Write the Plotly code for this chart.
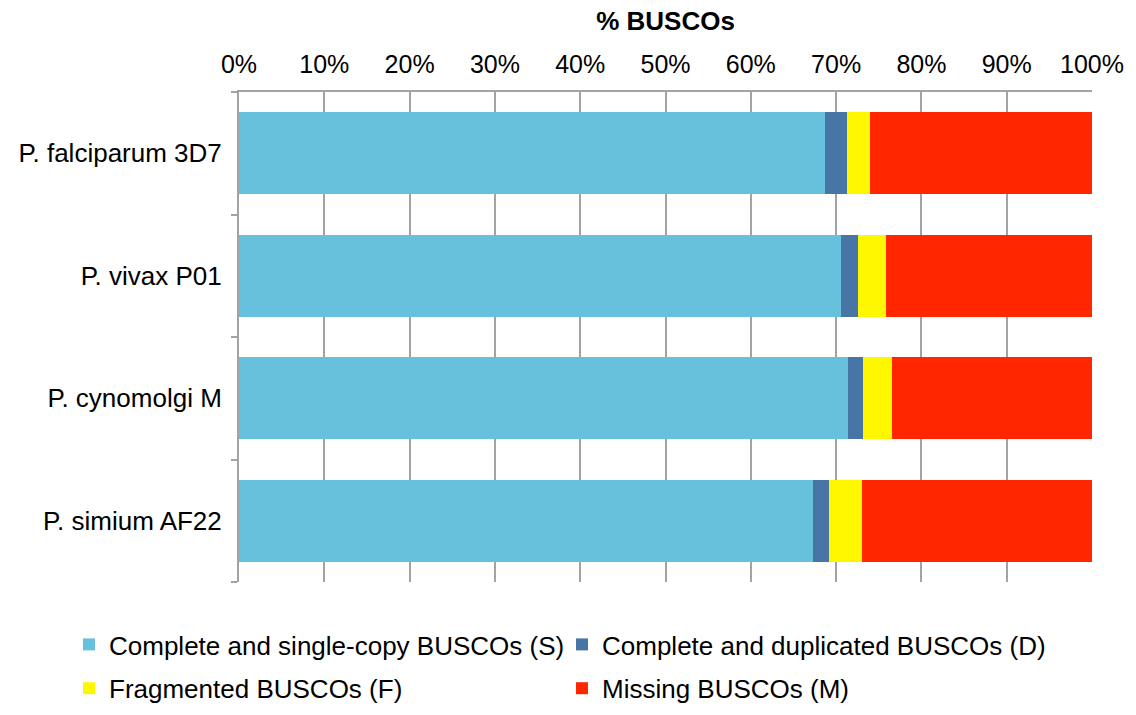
import plotly.graph_objects as go

species = ["P. falciparum 3D7", "P. vivax P01", "P. cynomolgi M", "P. simium AF22"]
single = [68.7, 70.6, 71.4, 67.3]
duplicated = [2.6, 2.0, 1.8, 1.9]
fragmented = [2.7, 3.3, 3.3, 3.8]
missing = [26.0, 24.1, 23.5, 27.0]

series = [
    ("Complete and single-copy BUSCOs (S)", single, "#67C1DC", "legend"),
    ("Complete and duplicated BUSCOs (D)", duplicated, "#4775A5", "legend2"),
    ("Fragmented BUSCOs (F)", fragmented, "#FFF700", "legend"),
    ("Missing BUSCOs (M)", missing, "#FF2600", "legend2"),
]

FONT = "Liberation Sans, Arial, Helvetica, sans-serif"
L, R, T, B = 239, 44, 92, 133
PW = 1136 - L - R

fig = go.Figure()
for name, vals, color, leg in series:
    fig.add_trace(go.Bar(
        y=species, x=vals, name=name, orientation="h",
        marker=dict(color=color, line=dict(width=0)),
        legend=leg, legendgroup=name,
    ))

legend_common = dict(
    orientation="v", xref="paper", yref="container",
    xanchor="left", yanchor="top",
    font=dict(size=26), traceorder="grouped", tracegroupgap=7,
    bgcolor="rgba(0,0,0,0)",
)

fig.update_layout(
    width=1136, height=715,
    barmode="stack", bargap=0.33,
    paper_bgcolor="white", plot_bgcolor="white",
    margin=dict(l=L, r=R, t=T, b=B),
    font=dict(family=FONT, size=26, color="#000000"),
    xaxis=dict(
        side="top", range=[0, 100], dtick=10, ticksuffix="%",
        showgrid=True, gridcolor="#A3A3A3", gridwidth=1.5,
        showline=True, linecolor="#A3A3A3", linewidth=2,
        ticks="", zeroline=False, tickfont=dict(size=25),
        ticklabelstandoff=7,
        title=dict(text="<b>% BUSCOs</b>", standoff=12, font=dict(size=26)),
        fixedrange=True, automargin=False,
    ),
    yaxis=dict(
        categoryorder="array", categoryarray=species[::-1],
        showline=True, linecolor="#A3A3A3", linewidth=2,
        ticks="outside", ticklen=6, tickwidth=2, tickcolor="#A3A3A3",
        tickson="boundaries", showgrid=False, ticklabelstandoff=10,
        tickfont=dict(size=26), automargin=False, fixedrange=True,
    ),
    legend=dict(x=(69 - L) / PW, y=1 - 621 / 715, **legend_common),
    legend2=dict(x=(562 - L) / PW, y=1 - 621 / 715, **legend_common),
    showlegend=True,
)

fig.write_html("out.html", config={"displayModeBar": False},
               post_script="document.body.style.margin='0';")
